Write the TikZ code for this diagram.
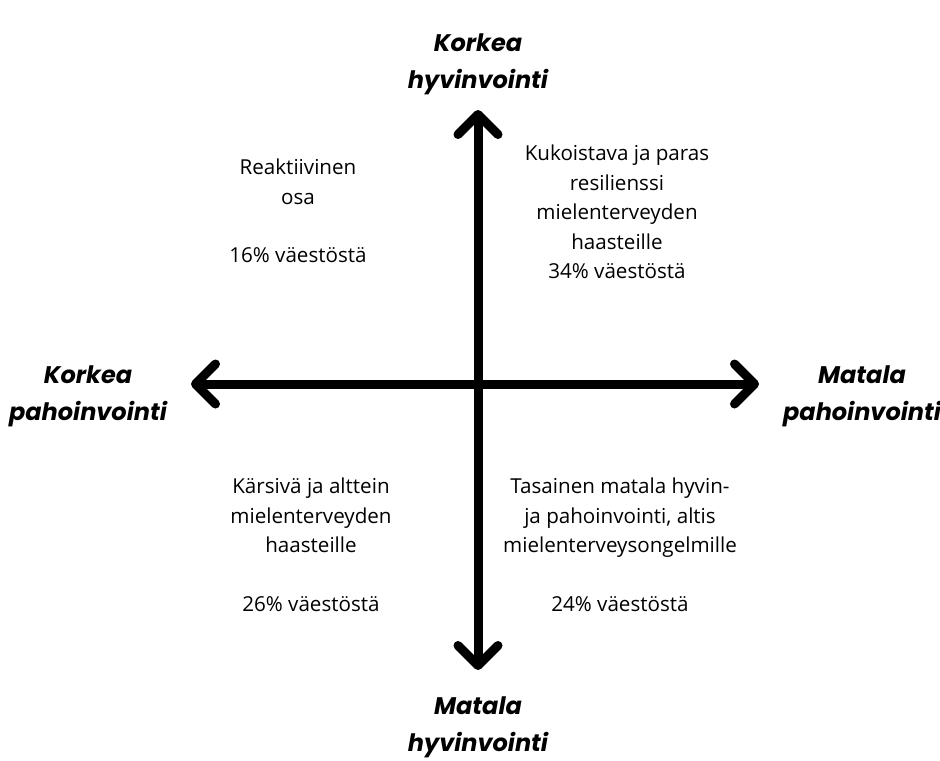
\documentclass[tikz,border=0pt]{standalone}
\usepackage{fontspec}
\setmainfont{Open Sans}
\newfontfamily\axisfont{Poppins}
\usetikzlibrary{arrows.meta,positioning}
\tikzset{
  axis label/.style={
    align=center, font=\axisfont\bfseries\itshape\fontsize{12}{18.5}\selectfont,
    inner sep=0pt
  },
  group text/.style={
    align=center, font=\fontsize{10.3}{14.7}\selectfont, inner sep=0pt
  },
  axis arrow/.style={
    {Straight Barb[round, length=10pt, width=20pt]}-{Straight Barb[round, length=10pt, width=20pt]},
    line width=4.5pt
  }
}

\begin{document}
\begin{tikzpicture}[x=0.5pt,y=-0.5pt]
    \useasboundingbox (0,0) rectangle (940,760);
    % axes
    \coordinate (top) at (478,110);
    \coordinate (bottom) at (478,670);
    \coordinate (left) at (191,384);
    \coordinate (right) at (759,384);
    \draw[axis arrow] (top) -- (bottom);
    \draw[axis arrow] (left) -- (right);
    % axis ends
    \node[axis label] (high wellbeing) at (478,64) {Korkea\\hyvinvointi};
    \node[axis label] (low wellbeing) at (478,727) {Matala\\hyvinvointi};
    \node[axis label] (high illbeing) at (88,396) {Korkea\\pahoinvointi};
    \node[axis label] (low illbeing) at (862,396) {Matala\\pahoinvointi};
    % quadrants
    \node[group text] (reactive) at (298,211) {Reaktiivinen\\osa\\[14.7pt]16\% väestöstä};
    \node[group text] (flourishing) at (617,212) {Kukoistava ja paras\\resilienssi\\mielenterveyden\\haasteille\\34\% väestöstä};
    \node[group text] (suffering) at (311,545) {Kärsivä ja alttein\\mielenterveyden\\haasteille\\[14.7pt]26\% väestöstä};
    \node[group text] (flat) at (620,545) {Tasainen matala hyvin-\\ja pahoinvointi, altis\\mielenterveysongelmille\\[14.7pt]24\% väestöstä};
\end{tikzpicture}
\end{document}
